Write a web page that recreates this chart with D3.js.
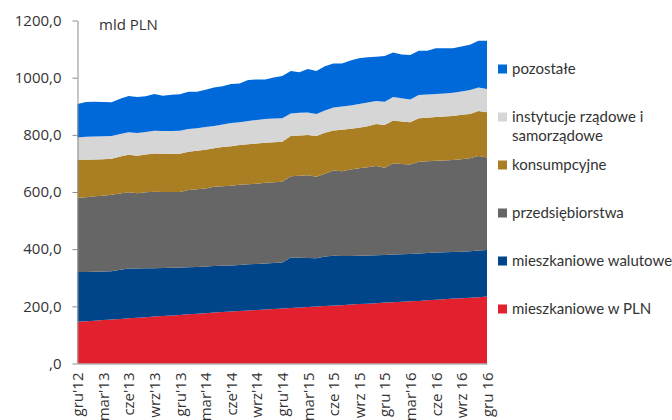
<!DOCTYPE html>
<html>
<head>
<meta charset="utf-8">
<script src="https://cdn.jsdelivr.net/npm/d3@7"></script>
<style>
  body { margin: 0; background: #fff; }
  svg { display: block; }
</style>
</head>
<body>
<svg id="chart" width="672" height="420"></svg>
<script>
// months gru'12 .. gru'16
const months = [
  "gru'12", "sty'13", "lut'13", "mar'13", "kwi'13", "maj'13", "cze'13", "lip'13", "sie'13", "wrz'13", "paź'13", "lis'13",
  "gru'13", "sty'14", "lut'14", "mar'14", "kwi'14", "maj'14", "cze'14", "lip'14", "sie'14", "wrz'14", "paź'14", "lis'14",
  "gru'14", "sty'15", "lut'15", "mar'15", "kwi 15", "maj 15", "cze 15", "lip 15", "sie 15", "wrz 15", "paź 15", "lis 15",
  "gru 15", "sty'16", "lut'16", "mar'16", "kwi 16", "maj 16", "cze 16", "lip 16", "sie 16", "wrz 16", "paź 16", "lis 16",
  "gru 16"
];
const tickLabels = ["gru'12", "mar'13", "cze'13", "wrz'13", "gru'13", "mar'14", "cze'14", "wrz'14", "gru'14",
  "mar'15", "cze 15", "wrz 15", "gru 15", "mar'16", "cze 16", "wrz 16", "gru 16"];
const yTicks = [0, 200, 400, 600, 800, 1000, 1200];

// mld PLN, bottom to top
const mieszkanioweWPLN = [146, 148, 150, 152, 154, 156, 158, 160, 162, 164, 166, 168, 170, 172, 174, 176, 178, 180, 182, 184,
  185, 187, 189, 191, 192, 194, 196, 198, 199, 201, 203, 204, 206, 208, 209, 211, 213, 214, 216, 218, 219, 221, 223, 225, 227,
  228, 230, 232, 234];
const mieszkanioweWalutowe = [174, 172, 171, 170, 169, 172, 174, 172, 171, 169, 168, 167, 166, 165, 164, 163, 163, 162, 161, 161,
  162, 161, 161, 161, 161, 177, 174, 171, 169, 173, 174, 172, 170, 169, 169, 168, 167, 167, 166, 165, 166, 166, 165, 164, 163,
  163, 163, 163, 163];
const przedsiebiorstwa = [260, 262, 264, 265, 267, 267, 267, 264, 266, 268, 266, 265, 264, 270, 272, 273, 277, 278, 279, 280,
  280, 281, 282, 282, 283, 284, 287, 290, 285, 290, 298, 297, 303, 306, 309, 312, 305, 320, 316, 313, 321, 321, 321, 321, 322,
  324, 325, 331, 324];
const konsumpcyjne = [132, 131, 129, 128, 126, 129, 131, 131, 132, 134, 134, 134, 134, 134, 134, 136, 135, 137, 138, 139,
  140, 141, 140, 140, 140, 141, 141, 140, 143, 143, 140, 145, 142, 142, 143, 147, 149, 149, 149, 148, 152, 152, 153, 154, 154,
  155, 155, 157, 158];
const instytucje = [79, 80, 80, 80, 80, 79, 79, 79, 79, 79, 79, 79, 80, 79, 79, 79, 78, 79, 81, 80,
  81, 82, 83, 83, 82, 79, 79, 79, 77, 78, 81, 81, 82, 83, 83, 80, 82, 82, 81, 80, 81, 81, 81, 81, 81,
  82, 84, 83, 81];
const pozostale = [117, 122, 122, 120, 118, 123, 127, 126, 125, 129, 124, 127, 128, 131, 128, 131, 135, 134, 137, 136,
  144, 142, 139, 144, 148, 148, 142, 152, 150, 155, 154, 151, 157, 160, 158, 155, 160, 156, 153, 155, 155, 153, 160, 158, 156,
  157, 158, 163, 169];

const seriesKeys = ["pln", "walutowe", "przeds", "konsump", "instyt", "pozost"];
const seriesValues = [mieszkanioweWPLN, mieszkanioweWalutowe, przedsiebiorstwa, konsumpcyjne, instytucje, pozostale];
const colors = ["#e3212e", "#00458a", "#666666", "#aa7f24", "#d6d6d6", "#0069da"];

const legendItems = [
  { key: "pozost", lines: ["pozostałe"] },
  { key: "instyt", lines: ["instytucje rządowe i", "samorządowe"] },
  { key: "konsump", lines: ["konsumpcyjne"] },
  { key: "przeds", lines: ["przedsiębiorstwa"] },
  { key: "walutowe", lines: ["mieszkaniowe walutowe"] },
  { key: "pln", lines: ["mieszkaniowe w PLN"] }
];

const margin = { top: 20.5, right: 185, bottom: 56.5, left: 77.5 };
const width = 672 - margin.left - margin.right;
const height = 420 - margin.top - margin.bottom;

const table = months.map((m, i) => {
  const row = { month: m };
  seriesKeys.forEach((k, j) => { row[k] = seriesValues[j][i]; });
  return row;
});

const svg = d3.select("#chart");
const g = svg.append("g")
  .attr("transform", `translate(${margin.left},${margin.top})`);

const x = d3.scalePoint()
  .domain(months)
  .range([0, width]);
const y = d3.scaleLinear()
  .domain([0, 1200])
  .range([height, 0]);
const color = d3.scaleOrdinal()
  .domain(seriesKeys)
  .range(colors);

const stacked = d3.stack().keys(seriesKeys)(table);

const area = d3.area()
  .x(d => x(d.data.month))
  .y0(d => y(d[0]))
  .y1(d => y(d[1]));

g.append("g")
  .selectAll("path")
  .data(stacked)
  .enter().append("path")
  .attr("fill", d => color(d.key))
  .attr("d", area);

// Y axis
const fmt = d => d === 0 ? ",0" : d3.format(".1f")(d).replace(".", ",");
const yAxis = g.append("g")
  .call(d3.axisLeft(y).tickValues(yTicks).tickSize(5).tickSizeOuter(0).tickPadding(11).tickFormat(fmt));
yAxis.select(".domain").attr("stroke", "#8c8c8c");
yAxis.selectAll(".tick line").attr("stroke", "#8c8c8c");
yAxis.selectAll("text")
  .style("font-family", "'Open Sans', sans-serif")
  .style("font-size", "15px")
  .attr("fill", "#333");

// X axis
const xAxis = g.append("g")
  .attr("transform", `translate(0,${height})`)
  .call(d3.axisBottom(x).tickValues(tickLabels).tickSize(0).tickSizeOuter(0));
xAxis.select(".domain").attr("stroke", "#8c8c8c");
xAxis.selectAll("text")
  .attr("transform", "rotate(-90)")
  .attr("x", -9)
  .attr("y", 0)
  .attr("dy", "0.35em")
  .style("text-anchor", "end")
  .style("font-family", "'Open Sans', sans-serif")
  .style("font-size", "15px")
  .attr("fill", "#333");

// unit label
svg.append("text")
  .attr("x", 99)
  .attr("y", 29.5)
  .style("font-family", "'Open Sans', sans-serif")
  .style("font-size", "15px")
  .attr("fill", "#333")
  .text("mld PLN");

// legend
const legend = svg.append("g")
  .attr("transform", "translate(498, 69)");
legendItems.forEach((item, i) => {
  const row = legend.append("g")
    .attr("transform", `translate(0,${i * 48})`);
  row.append("rect")
    .attr("x", 0)
    .attr("y", -4.5)
    .attr("width", 9)
    .attr("height", 9)
    .attr("fill", color(item.key));
  item.lines.forEach((line, li) => {
    row.append("text")
      .attr("x", 14)
      .attr("y", li * 19)
      .attr("dy", "0.35em")
      .style("font-family", "Lato, sans-serif")
      .style("font-size", "15px")
      .attr("fill", "#333")
      .text(line);
  });
});
</script>
</body>
</html>
